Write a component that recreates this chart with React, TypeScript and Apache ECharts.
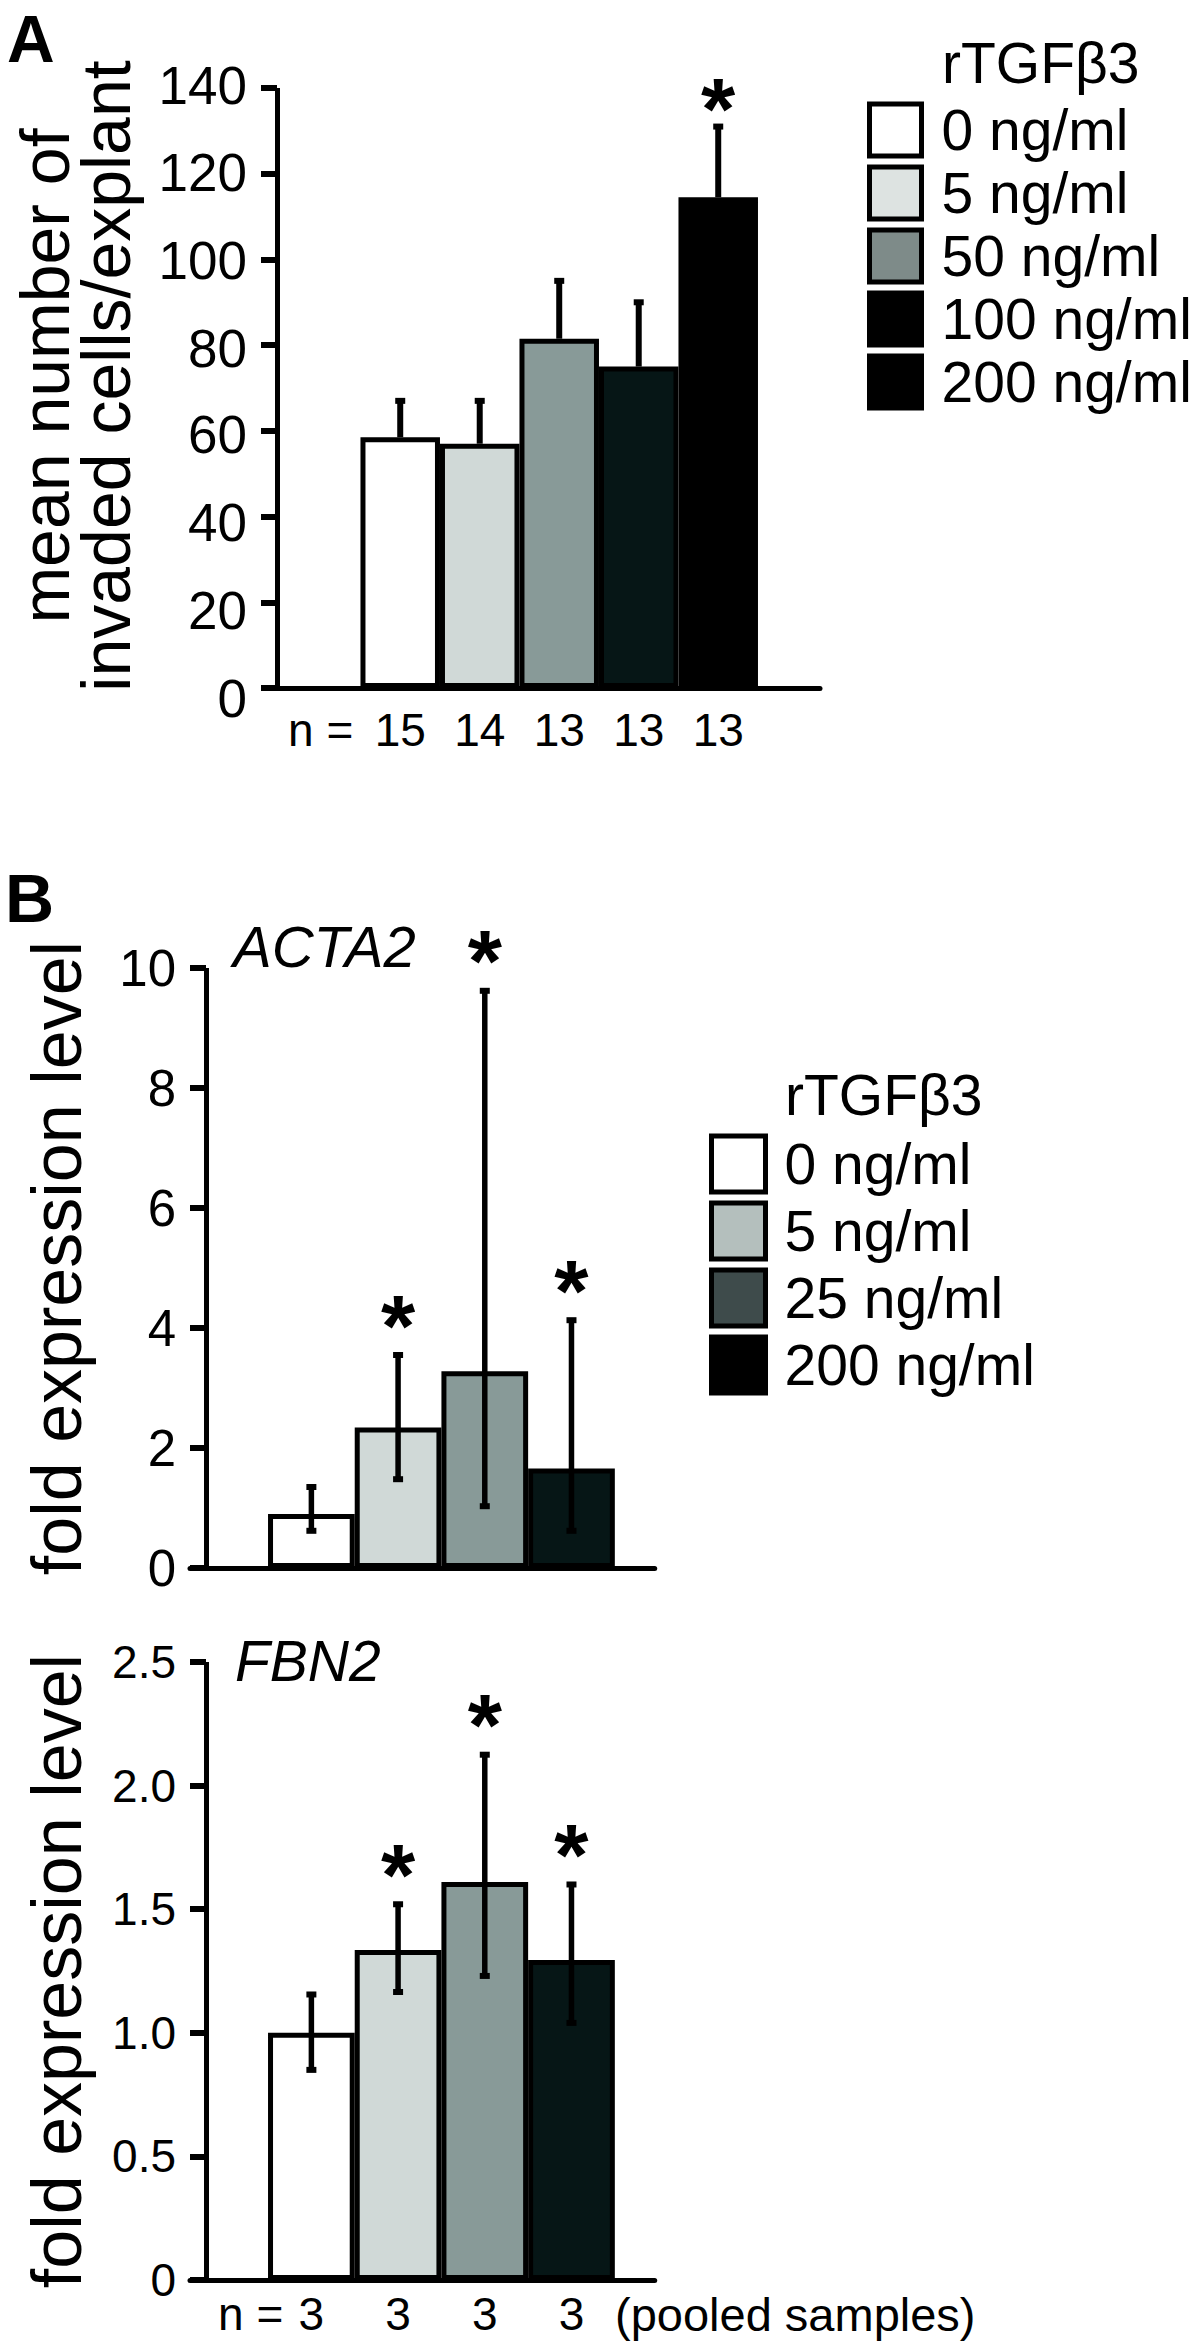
import React, { useEffect, useRef } from 'react';
import * as echarts from 'echarts';

// ---------------- data ----------------
const dosesA = ['0 ng/ml', '5 ng/ml', '50 ng/ml', '100 ng/ml', '200 ng/ml'];
const nLabelsA = ['15', '14', '13', '13', '13'];
const meanA = [58.5, 57, 81.5, 75, 114.5];
const errTopA = [67, 67, 95, 90, 131];
const sigA = [0, 0, 0, 0, 1];
const yTicksA = [0, 20, 40, 60, 80, 100, 120, 140];

const dosesB = ['0 ng/ml', '5 ng/ml', '25 ng/ml', '200 ng/ml'];
const nLabelsB = ['3', '3', '3', '3'];
const meanACTA2 = [0.9, 2.34, 3.28, 1.66];
const lowACTA2 = [0.62, 1.48, 1.03, 0.62];
const highACTA2 = [1.35, 3.55, 9.62, 4.13];
const sigACTA2 = [0, 1, 1, 1];
const yTicksACTA2 = [0, 2, 4, 6, 8, 10];

const meanFBN2 = [1.0, 1.335, 1.61, 1.295];
const lowFBN2 = [0.85, 1.165, 1.23, 1.04];
const highFBN2 = [1.155, 1.52, 2.125, 1.6];
const sigFBN2 = [0, 1, 1, 1];
const yTicksFBN2 = [0, 0.5, 1.0, 1.5, 2.0, 2.5];

// ---------------- styles ----------------
const barColorsA = ['#ffffff', '#d0d9d7', '#889a98', '#061616', '#000000'];
const legendColorsA = ['#ffffff', '#dde3e1', '#7e8b89', '#000000', '#000000'];
const barColorsB = ['#ffffff', '#d0d9d7', '#889a98', '#061616'];
const legendColorsB = ['#ffffff', '#b4bfbd', '#3e4b4b', '#000000'];

const FONT = "'Liberation Sans', Arial, Helvetica, sans-serif";

// layout (pixels / axis extents)
const slotA = 79.5;
const xMinA = -0.55;
const xMaxA = 6.28;
const slotB = 86.7;
const xMinB = -0.4;
const xMaxB = 4.96;

const labelPosA = [0, 1, 2, 3, 4, 5];
const xLabelsA = ['n =', ...nLabelsA];
const labelPosB = [0.3, 1, 2, 3, 4];
const xLabelsB = ['n =', ...nLabelsB];

// small vertical nudge of panel A's tick labels (px, top label -> bottom label)
const labelNudgeA = [-3, 10];

function yAxis(
  gridIndex: number,
  ticks: number[],
  name: string,
  nameGap: number,
  offset: number,
  labelSize: number,
  nameSize: number,
  nameLH: number,
  shift: number,
  fmt?: (v: number) => string,
  nudge?: number[]
) {
  const fmtFn = fmt ?? ((v: number) => String(v));
  let axisLabel: any = {
    show: true,
    margin: 30,
    fontSize: labelSize,
    color: '#000',
    fontFamily: FONT,
    formatter: fmtFn,
  };
  if (nudge) {
    const maxV = ticks[ticks.length - 1];
    const rich: any = {};
    ticks.forEach((t, i) => {
      const d = Math.round(nudge[0] + (nudge[1] - nudge[0]) * (maxV - t) / maxV);
      rich['t' + i] = {
        fontSize: labelSize,
        fontFamily: FONT,
        color: '#000',
        padding: d >= 0 ? [2 * d, 0, 0, 0] : [0, 0, -2 * d, 0],
      };
    });
    axisLabel = {
      ...axisLabel,
      formatter: (v: number) => {
        const i = ticks.findIndex((t) => Math.abs(t - v) < 1e-9);
        return i >= 0 ? `{t${i}|${fmtFn(v)}}` : fmtFn(v);
      },
      rich,
    };
  }
  return {
    type: 'value',
    gridIndex,
    min: ticks[0],
    max: ticks[ticks.length - 1],
    interval: ticks[1] - ticks[0],
    offset,
    axisLine: { show: true, onZero: false, lineStyle: { color: '#000', width: 5, cap: 'butt' } },
    axisTick: { show: true, inside: false, length: 16, lineStyle: { color: '#000', width: 6 } },
    axisLabel,
    splitLine: { show: false },
    name,
    nameLocation: 'middle',
    nameRotate: 90,
    nameGap,
    nameTextStyle: {
      fontSize: nameSize,
      lineHeight: nameLH,
      color: '#000',
      fontFamily: FONT,
      padding: [0, 0, 0, shift],
    },
  };
}

function xAxis(gridIndex: number, min: number, max: number, pos: number[] | null, labels: string[], margin: number) {
  return {
    type: 'value',
    gridIndex,
    min,
    max,
    axisLine: { show: true, onZero: false, lineStyle: { color: '#000', width: 5 } },
    axisTick: { show: false },
    splitLine: { show: false },
    axisLabel: pos
      ? {
          show: true,
          customValues: pos,
          formatter: (v: number) => {
            const i = pos.findIndex((p) => Math.abs(p - v) < 1e-6);
            return i >= 0 ? labels[i] : '';
          },
          fontSize: 46,
          margin,
          color: '#000',
          fontFamily: FONT,
        }
      : { show: false },
  };
}

function barSeries(gridIndex: number, names: string[], values: number[], colors: string[], width: number) {
  return names.map((name, i) => ({
    type: 'bar',
    name,
    xAxisIndex: gridIndex,
    yAxisIndex: gridIndex,
    data: [[i + 1, values[i]]],
    barWidth: width,
    barGap: '-100%',
    silent: true,
    z: 2,
    itemStyle: { color: colors[i], borderColor: '#000', borderWidth: 5 },
  }));
}

function errSeries(gridIndex: number, data: number[][], lw: number, starLift: number) {
  return {
    type: 'custom',
    xAxisIndex: gridIndex,
    yAxisIndex: gridIndex,
    clip: false,
    silent: true,
    z: 10,
    encode: { x: 0, y: [1, 2] },
    data,
    renderItem: (params: any, api: any) => {
      const x = api.value(0);
      const a = api.coord([x, api.value(1)]);
      const b = api.coord([x, api.value(2)]);
      const both = api.value(4) === 1;
      const cw = 10;
      const ch = 6;
      const children: any[] = [
        { type: 'line', shape: { x1: a[0], y1: a[1], x2: b[0], y2: b[1] }, style: { stroke: '#000', lineWidth: lw } },
        { type: 'rect', shape: { x: b[0] - cw / 2, y: b[1] - ch / 2, width: cw, height: ch }, style: { fill: '#000' } },
      ];
      if (both) {
        children.push({ type: 'rect', shape: { x: a[0] - cw / 2, y: a[1] - ch / 2, width: cw, height: ch }, style: { fill: '#000' } });
      }
      if (api.value(3) === 1) {
        children.push({
          type: 'text',
          x: b[0],
          y: b[1] - starLift,
          style: {
            text: '*',
            fontSize: 88,
            fontWeight: 'bold',
            fontFamily: FONT,
            fill: '#000',
            align: 'center',
            verticalAlign: 'middle',
          },
        });
      }
      return { type: 'group', children };
    },
  };
}

function legend(names: string[], colors: string[], left: number, top: number, w: number, h: number, gap: number, textPad: number) {
  return {
    orient: 'vertical',
    left,
    top,
    padding: 0,
    itemWidth: w,
    itemHeight: h,
    itemGap: gap,
    icon: 'rect',
    selectedMode: false,
    data: names.map((name, i) => ({
      name,
      icon: 'rect',
      itemStyle: { color: colors[i], borderColor: '#000', borderWidth: 5 },
    })),
    textStyle: { fontSize: 57, lineHeight: 52, color: '#000', fontFamily: FONT, padding: [0, 0, 0, textPad] },
  };
}

function titleText(text: string, left: number, top: number, fontSize: number, extra: any = {}, lh?: number) {
  return {
    text,
    left,
    top,
    padding: 0,
    textStyle: {
      fontSize,
      lineHeight: lh ?? fontSize,
      color: '#000',
      fontFamily: FONT,
      fontWeight: 'normal',
      ...extra,
    },
  };
}

function buildOption() {
  const gridW = (min: number, max: number, s: number) => (max - min) * s;
  const errA = dosesA.map((_, i) => [i + 1, meanA[i], errTopA[i], sigA[i], 0]);
  const errB1 = dosesB.map((_, i) => [i + 1, lowACTA2[i], highACTA2[i], sigACTA2[i], 1]);
  const errB2 = dosesB.map((_, i) => [i + 1, lowFBN2[i], highFBN2[i], sigFBN2[i], 1]);

  return {
    animation: false,
    backgroundColor: '#ffffff',
    textStyle: { fontFamily: FONT },
    title: [
      titleText('A', 7, 6, 66, { fontWeight: 'bold' }, 66),
      titleText('B', 5, 864, 68, { fontWeight: 'bold' }, 68),
      titleText('ACTA2', 233, 917, 58, { fontStyle: 'italic' }),
      titleText('FBN2', 235, 1632, 57, { fontStyle: 'italic' }),
      titleText('rTGFβ3', 942, 34, 57),
      titleText('rTGFβ3', 785, 1066, 57),
      titleText('(pooled samples)', 615, 2291, 47),
    ],
    legend: [
      legend(dosesA, legendColorsA, 867, 101.5, 52, 52, 6, 15),
      legend(dosesB, legendColorsB, 709, 1133.5, 54, 56, 6, 14),
    ],
    grid: [
      { left: 277, top: 88, width: gridW(xMinA, xMaxA, slotA), height: 600, containLabel: false, outerBoundsMode: 'none' },
      { left: 190, top: 968, width: gridW(xMinB, xMaxB, slotB), height: 600, containLabel: false, outerBoundsMode: 'none' },
      { left: 190, top: 1662, width: gridW(xMinB, xMaxB, slotB), height: 618, containLabel: false, outerBoundsMode: 'none' },
    ],
    xAxis: [
      xAxis(0, xMinA, xMaxA, labelPosA, xLabelsA, 19),
      xAxis(1, xMinB, xMaxB, null, [], 10),
      xAxis(2, xMinB, xMaxB, labelPosB, xLabelsB, 11),
    ],
    yAxis: [
      yAxis(0, yTicksA, 'mean number of\ninvaded cells/explant', 141, 0, 53, 68, 61, 24, undefined, labelNudgeA),
      yAxis(1, yTicksACTA2, 'fold expression level', 114, -16, 51, 70, 70, 20),
      yAxis(2, yTicksFBN2, 'fold expression level', 114, -16, 46, 70, 70, 0, (v: number) =>
        v === 0 ? '0' : v.toFixed(1)
      ),
    ],
    series: [
      ...barSeries(0, dosesA, meanA, barColorsA, slotA),
      ...barSeries(1, dosesB, meanACTA2, barColorsB, slotB),
      ...barSeries(2, dosesB, meanFBN2, barColorsB, slotB),
      errSeries(0, errA, 6, 18),
      errSeries(1, errB1, 5.5, 30),
      errSeries(2, errB2, 5.5, 30),
    ],
  };
}

export default function App() {
  const ref = useRef<HTMLDivElement>(null);
  useEffect(() => {
    document.body.style.margin = '0';
    if (!ref.current) return;
    const chart = echarts.init(ref.current, null, { renderer: 'svg' });
    chart.setOption(buildOption() as any);
    return () => {
      chart.dispose();
    };
  }, []);
  return <div ref={ref} style={{ width: 1200, height: 2344 }} />;
}
